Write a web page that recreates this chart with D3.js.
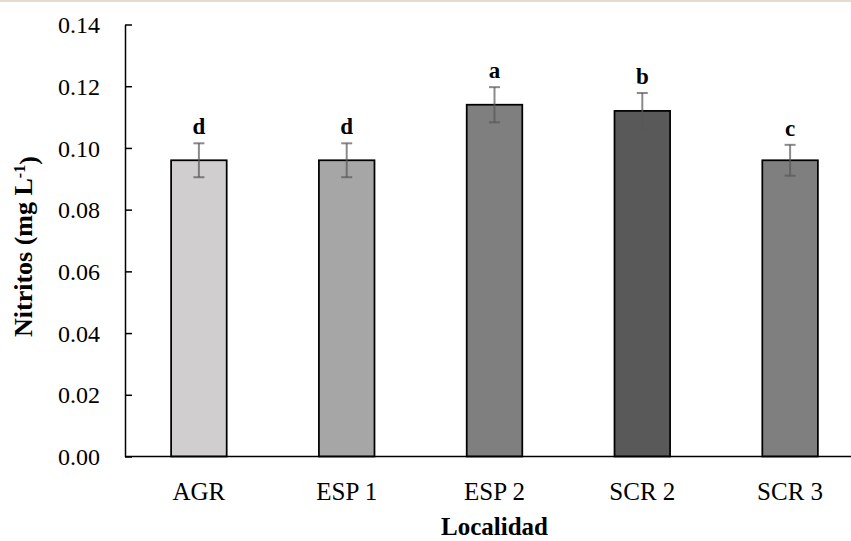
<!DOCTYPE html>
<html>
<head>
<meta charset="utf-8">
<script src="https://cdn.jsdelivr.net/npm/d3@7"></script>
<style>
  html, body { margin: 0; padding: 0; background: #ffffff; }
  svg { display: block; }
  text { font-family: "Liberation Serif", "Times New Roman", serif; fill: #000; }
</style>
</head>
<body>
<script>
// Nitrite concentration per locality (mean ± error, significance letters)
const categories = ["AGR", "ESP 1", "ESP 2", "SCR 2", "SCR 3"];
const means = [0.096, 0.096, 0.114, 0.112, 0.096];
const errors = [0.0055, 0.0055, 0.0057, 0.0058, 0.005];
const letters = ["d", "d", "a", "b", "c"];
const barColors = ["#d0cece", "#a6a6a6", "#7f7f7f", "#595959", "#7f7f7f"];
const yTicks = [0.00, 0.02, 0.04, 0.06, 0.08, 0.10, 0.12, 0.14];

const W = 851, H = 541;
const plot = { left: 125, right: 864, top: 24.5, bottom: 456.5 };

const svg = d3.select("body").append("svg")
  .attr("width", W).attr("height", H);

// thin tinted strip along the top edge
svg.append("rect")
  .attr("x", 0).attr("y", 0).attr("width", W).attr("height", 2)
  .attr("fill", "#e6dbcf");

const x = d3.scaleBand()
  .domain(categories)
  .range([plot.left, plot.right])
  .paddingInner(0.624)
  .paddingOuter(0.312);

const y = d3.scaleLinear()
  .domain([0, 0.14])
  .range([plot.bottom, plot.top]);

const rows = categories.map((c, i) => ({
  cat: c, mean: means[i], err: errors[i], letter: letters[i], color: barColors[i]
}));

// bars
svg.append("g").selectAll("rect")
  .data(rows)
  .join("rect")
  .attr("x", d => x(d.cat))
  .attr("y", d => y(d.mean))
  .attr("width", x.bandwidth())
  .attr("height", d => y(0) - y(d.mean))
  .attr("fill", d => d.color)
  .attr("stroke", "#000")
  .attr("stroke-width", 1.75);

// error bars
const eb = svg.append("g")
  .attr("stroke", "#595959")
  .attr("stroke-opacity", 0.7)
  .attr("stroke-width", 2)
  .attr("fill", "none");
rows.forEach(d => {
  const cx = x(d.cat) + x.bandwidth() / 2;
  const y1 = y(d.mean + d.err), y2 = y(d.mean - d.err);
  eb.append("line").attr("x1", cx).attr("x2", cx).attr("y1", y1).attr("y2", y2);
  eb.append("line").attr("x1", cx - 5.5).attr("x2", cx + 5.5).attr("y1", y1).attr("y2", y1);
  eb.append("line").attr("x1", cx - 5.5).attr("x2", cx + 5.5).attr("y1", y2).attr("y2", y2);
});

// significance letters
svg.append("g").selectAll("text")
  .data(rows)
  .join("text")
  .attr("x", d => x(d.cat) + x.bandwidth() / 2)
  .attr("y", d => y(d.mean + d.err) - 9)
  .attr("text-anchor", "middle")
  .style("font-size", "23px")
  .style("font-weight", "bold")
  .text(d => d.letter);

// y axis
const yAxis = d3.axisLeft(y)
  .tickValues(yTicks)
  .tickFormat(d3.format(".2f"))
  .tickSizeInner(-7)
  .tickSizeOuter(0)
  .tickPadding(25);
const gy = svg.append("g")
  .attr("transform", `translate(${plot.left},0)`)
  .call(yAxis);
gy.select(".domain").attr("stroke", "#000").attr("stroke-width", 1.5);
gy.selectAll(".tick line").attr("stroke", "#000").attr("stroke-width", 1.5);
gy.selectAll(".tick text")
  .style("font-family", "'Liberation Serif', 'Times New Roman', serif")
  .style("font-size", "24px")
  .attr("fill", "#000")
  .attr("dy", "0.34em");

// x axis
const xAxis = d3.axisBottom(x).tickSizeInner(0).tickSizeOuter(0).tickPadding(0);
const gx = svg.append("g")
  .attr("transform", `translate(0,${plot.bottom})`)
  .call(xAxis);
gx.select(".domain").remove();
gx.append("line")
  .attr("x1", plot.left).attr("x2", W)
  .attr("y1", 0).attr("y2", 0)
  .attr("stroke", "#000").attr("stroke-width", 1.5);
gx.selectAll(".tick text")
  .style("font-family", "'Liberation Serif', 'Times New Roman', serif")
  .style("font-size", "25px")
  .attr("fill", "#000")
  .attr("y", 43.5)
  .attr("dy", 0);

// x title
svg.append("text")
  .attr("x", (plot.left + plot.right) / 2)
  .attr("y", 535)
  .attr("text-anchor", "middle")
  .style("font-size", "25px")
  .style("font-weight", "bold")
  .text("Localidad");

// y title
const yt = svg.append("text")
  .attr("transform", "rotate(-90)")
  .attr("x", -337)
  .attr("y", 32)
  .attr("text-anchor", "start")
  .style("font-size", "26px")
  .style("font-weight", "bold");
yt.append("tspan").text("Nitritos (mg L");
yt.append("tspan").attr("dy", "-0.45em").style("font-size", "16px").text("-1");
yt.append("tspan").attr("dy", "0.45em").text(")");
</script>
</body>
</html>
